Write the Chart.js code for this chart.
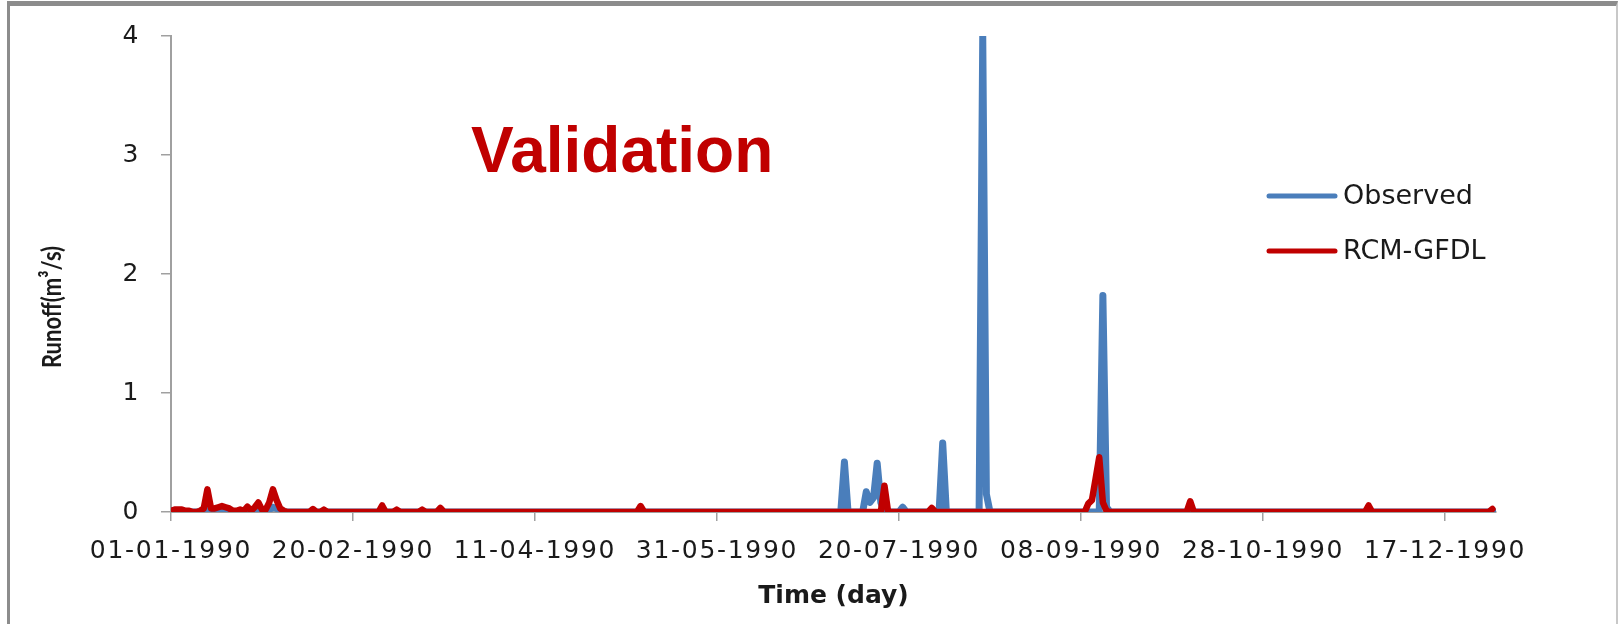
<!DOCTYPE html>
<html>
<head>
<meta charset="utf-8">
<title>Validation – daily runoff 1990</title>
<script src="https://cdn.jsdelivr.net/npm/chart.js@4.4.1/dist/chart.umd.min.js"></script>
<style>
  html, body { margin: 0; padding: 0; background: #ffffff; }
  #wrap { position: relative; width: 1618px; height: 624px; overflow: hidden; background: #ffffff; }
  #frame {
    position: absolute; left: 7px; top: 1px; width: 1606px; height: 700px;
    border-top: 5px solid #8c8c8c; border-left: 3px solid #8c8c8c; border-right: 2px solid #c8c8c8;
    pointer-events: none;
  }
</style>
</head>
<body>
<div id="wrap">
  <canvas id="runoffChart"></canvas>
  <div id="frame"></div>
</div>
<script>
// Daily runoff (m³/s) for 1990, one value per day, one row per month.
const observed = [
  // Jan
  0.01,0.01,0.01,0.01,0,0,0,0,0,0.01,0.02,0.02,0.01,0,0,0,0,0,0,0,0,0,0,0.01,0.01,0,0.01,0.02,0.04,0.03,0.01,
  // Feb
  0,0,0,0,0,0,0,0,0,0,0,0,0,0,0,0,0,0,0,0,0,0,0,0,0,0,0,0,
  // Mar
  0,0,0,0,0,0,0,0,0,0,0,0,0,0,0,0,0,0,0,0,0,0,0,0,0,0,0,0,0,0,0,
  // Apr
  0,0,0,0,0,0,0,0,0,0,0,0,0,0,0,0,0,0,0,0,0,0,0,0,0,0,0,0,0,0,
  // May
  0,0,0,0,0,0,0,0,0,0,0,0,0,0,0,0,0,0,0,0,0,0,0,0,0,0,0,0,0,0,0,
  // Jun
  0,0,0,0,0,0,0,0,0,0,0,0,0,0,0,0,0,0,0,0,0,0,0,0,0,0,0,0,0,0,
  // Jul
  0,0,0,0,0.42,0,0,0,0,0,0.17,0.08,0.12,0.41,0.08,0,0,0,0,0,0.04,0,0,0,0,0,0,0,0,0,0,
  // Aug
  0.58,0,0,0,0,0,0,0,0,0,0,4.0,0.15,0,0,0,0,0,0,0,0,0,0,0,0,0,0,0,0,0,0,
  // Sep
  0,0,0,0,0,0,0,0,0,0,0,0,0,1.82,0.04,0,0,0,0,0,0,0,0,0,0,0,0,0,0,0,
  // Oct
  0,0,0,0,0,0,0,0,0,0,0,0,0,0,0,0,0,0,0,0,0,0,0,0,0,0,0,0,0,0,0,
  // Nov
  0,0,0,0,0,0,0,0,0,0,0,0,0,0,0,0,0,0,0,0,0,0,0,0,0,0,0,0,0,0,
  // Dec
  0,0,0,0,0,0,0,0,0,0,0,0,0,0,0,0,0,0,0,0,0,0,0,0,0,0,0,0,0,0,0
];

const rcmGfdl = [
  // Jan
  0.01,0.02,0.02,0.02,0.01,0.01,0,0,0.01,0.03,0.19,0.03,0.03,0.04,0.05,0.04,0.03,0.01,0.01,0.02,0.01,0.045,0.01,0.04,0.08,0.02,0.02,0.08,0.19,0.1,0.03,
  // Feb
  0.01,0,0,0,0,0,0,0,0.025,0,0,0.02,0,0,0,0,0,0,0,0,0,0,0,0,0,0,0,0.055,
  // Mar
  0,0,0,0.02,0,0,0,0,0,0,0.02,0,0,0,0,0.035,0,0,0,0,0,0,0,0,0,0,0,0,0,0,0,
  // Apr
  0,0,0,0,0,0,0,0,0,0,0,0,0,0,0,0,0,0,0,0,0,0,0,0,0,0,0,0,0,0,
  // May
  0,0,0,0,0,0,0,0,0,0.05,0,0,0,0,0,0,0,0,0,0,0,0,0,0,0,0,0,0,0,0,0,
  // Jun
  0,0,0,0,0,0,0,0,0,0,0,0,0,0,0,0,0,0,0,0,0,0,0,0,0,0,0,0,0,0,
  // Jul
  0,0,0,0,0,0,0,0,0,0,0,0,0,0,0,0.22,0,0,0,0,0,0,0,0,0,0,0,0,0.035,0,0,
  // Aug
  0,0,0,0,0,0,0,0,0,0,0,0,0,0,0,0,0,0,0,0,0,0,0,0,0,0,0,0,0,0,0,
  // Sep
  0,0,0,0,0,0,0,0,0,0.07,0.1,0.28,0.46,0.08,0.01,0,0,0,0,0,0,0,0,0,0,0,0,0,0,0,
  // Oct
  0,0,0,0,0,0,0,0.09,0,0,0,0,0,0,0,0,0,0,0,0,0,0,0,0,0,0,0,0,0,0,0,
  // Nov
  0,0,0,0,0,0,0,0,0,0,0,0,0,0,0,0,0,0,0,0,0,0,0,0,0,0.055,0,0,0,
  // Dec
  0,0,0,0,0,0,0,0,0,0,0,0,0,0,0,0,0,0,0,0,0,0,0,0,0,0,0,0,0,0,0.025
];

// Day of year (0 = 01-01-1990) for each value
const dayOfYear = observed.map((_, i) => i);

// Date ticks on the time axis
const tickDays   = [0, 50, 100, 150, 200, 250, 300, 350];
const tickLabels = ['01-01-1990', '20-02-1990', '11-04-1990', '31-05-1990',
                    '20-07-1990', '08-09-1990', '28-10-1990', '17-12-1990'];

const runoffTicks = [0, 1, 2, 3, 4];

const seriesNames = ['Observed', 'RCM-GFDL'];
const chartTitle = 'Validation';
const yAxisTitle = 'Runoff(m³/s)';
const xAxisTitle = 'Time (day)';

const AXIS_GREY = '#a0a0a0';
const TEXT = '#1a1a1a';

// Slightly open letter spacing for the tick labels
const axisLetterSpacing = {
  id: 'axisLetterSpacing',
  beforeDraw(chart) { chart.ctx.letterSpacing = '1.7px'; },
  afterDatasetsDraw(chart) { chart.ctx.letterSpacing = '0px'; }
};

// Chart title, axis titles and the line legend
const overlayText = {
  id: 'overlayText',
  afterDraw(chart) {
    const ctx = chart.ctx;
    const area = chart.chartArea;
    ctx.save();
    ctx.letterSpacing = '0px';

    ctx.font = 'bold 64px "Liberation Sans", Arial, sans-serif';
    ctx.fillStyle = '#c00000';
    ctx.textBaseline = 'alphabetic';
    ctx.textAlign = 'left';
    ctx.fillText(chartTitle, 471, 172);

    // horizontal axis title, centred under the plot
    ctx.font = 'bold 25px "DejaVu Sans", sans-serif';
    ctx.fillStyle = TEXT;
    ctx.textAlign = 'center';
    ctx.textBaseline = 'middle';
    ctx.fillText(xAxisTitle, (area.left + area.right) / 2, 596);

    // vertical axis title, glyphs widened a little
    ctx.save();
    ctx.translate(52, 307);
    ctx.scale(1.25, 1);
    ctx.rotate(-Math.PI / 2);
    ctx.font = 'bold 22px Lato, "DejaVu Sans", sans-serif';
    ctx.fillStyle = TEXT;
    ctx.textAlign = 'center';
    ctx.textBaseline = 'middle';
    ctx.fillText(yAxisTitle, 0, 0);
    ctx.restore();

    chart.data.datasets.forEach((ds, i) => {
      const y = 196 + i * 55;
      ctx.strokeStyle = ds.borderColor;
      ctx.lineWidth = 5;
      ctx.lineCap = 'round';
      ctx.beginPath();
      ctx.moveTo(1269, y);
      ctx.lineTo(1335, y);
      ctx.stroke();
      ctx.fillStyle = TEXT;
      ctx.font = '27px "DejaVu Sans", sans-serif';
      ctx.textAlign = 'left';
      ctx.textBaseline = 'middle';
      ctx.fillText(ds.label, 1343, y + 1);
    });
    ctx.restore();
  }
};

new Chart(document.getElementById('runoffChart'), {
  type: 'line',
  data: {
    labels: dayOfYear,
    datasets: [
      {
        label: seriesNames[0],
        data: observed,
        borderColor: '#4a7ebb',
        backgroundColor: '#4a7ebb',
        borderWidth: 7,
        pointRadius: 0,
        tension: 0,
        borderJoinStyle: 'round',
        borderCapStyle: 'round',
        order: 1
      },
      {
        label: seriesNames[1],
        data: rcmGfdl,
        borderColor: '#c00000',
        backgroundColor: '#c00000',
        borderWidth: 6.5,
        pointRadius: 0,
        tension: 0,
        borderJoinStyle: 'round',
        borderCapStyle: 'round',
        order: 0
      }
    ]
  },
  options: {
    responsive: true,
    maintainAspectRatio: false,
    animation: false,
    events: [],
    layout: { padding: { left: 0, right: 122, top: 32, bottom: 0 } },
    plugins: {
      legend: { display: false },
      tooltip: { enabled: false },
      title: { display: false }
    },
    scales: {
      x: {
        type: 'linear',
        bounds: 'data',
        min: 0,
        max: dayOfYear.length - 1,
        afterBuildTicks: (scale) => { scale.ticks = tickDays.map(v => ({ value: v })); },
        afterFit: (scale) => { scale.height = 112; },
        ticks: {
          autoSkip: false,
          maxRotation: 0,
          padding: 15,
          color: TEXT,
          font: { family: '"DejaVu Sans", sans-serif', size: 25 },
          callback: (value, index) => tickLabels[index]
        },
        grid: { drawOnChartArea: false, tickLength: 9, color: AXIS_GREY, lineWidth: 1.5 },
        border: { display: true, color: AXIS_GREY, width: 2 },
        title: { display: false }
      },
      y: {
        min: 0,
        max: 4,
        afterBuildTicks: (scale) => { scale.ticks = runoffTicks.map(v => ({ value: v })); },
        afterFit: (scale) => { scale.width = 171; },
        ticks: {
          padding: 21,
          color: TEXT,
          font: { family: '"DejaVu Sans", sans-serif', size: 25 }
        },
        grid: { drawOnChartArea: false, tickLength: 10, color: AXIS_GREY, lineWidth: 1.5 },
        border: { display: true, color: AXIS_GREY, width: 2 },
        title: { display: false }
      }
    }
  },
  plugins: [axisLetterSpacing, overlayText]
});
</script>
</body>
</html>
